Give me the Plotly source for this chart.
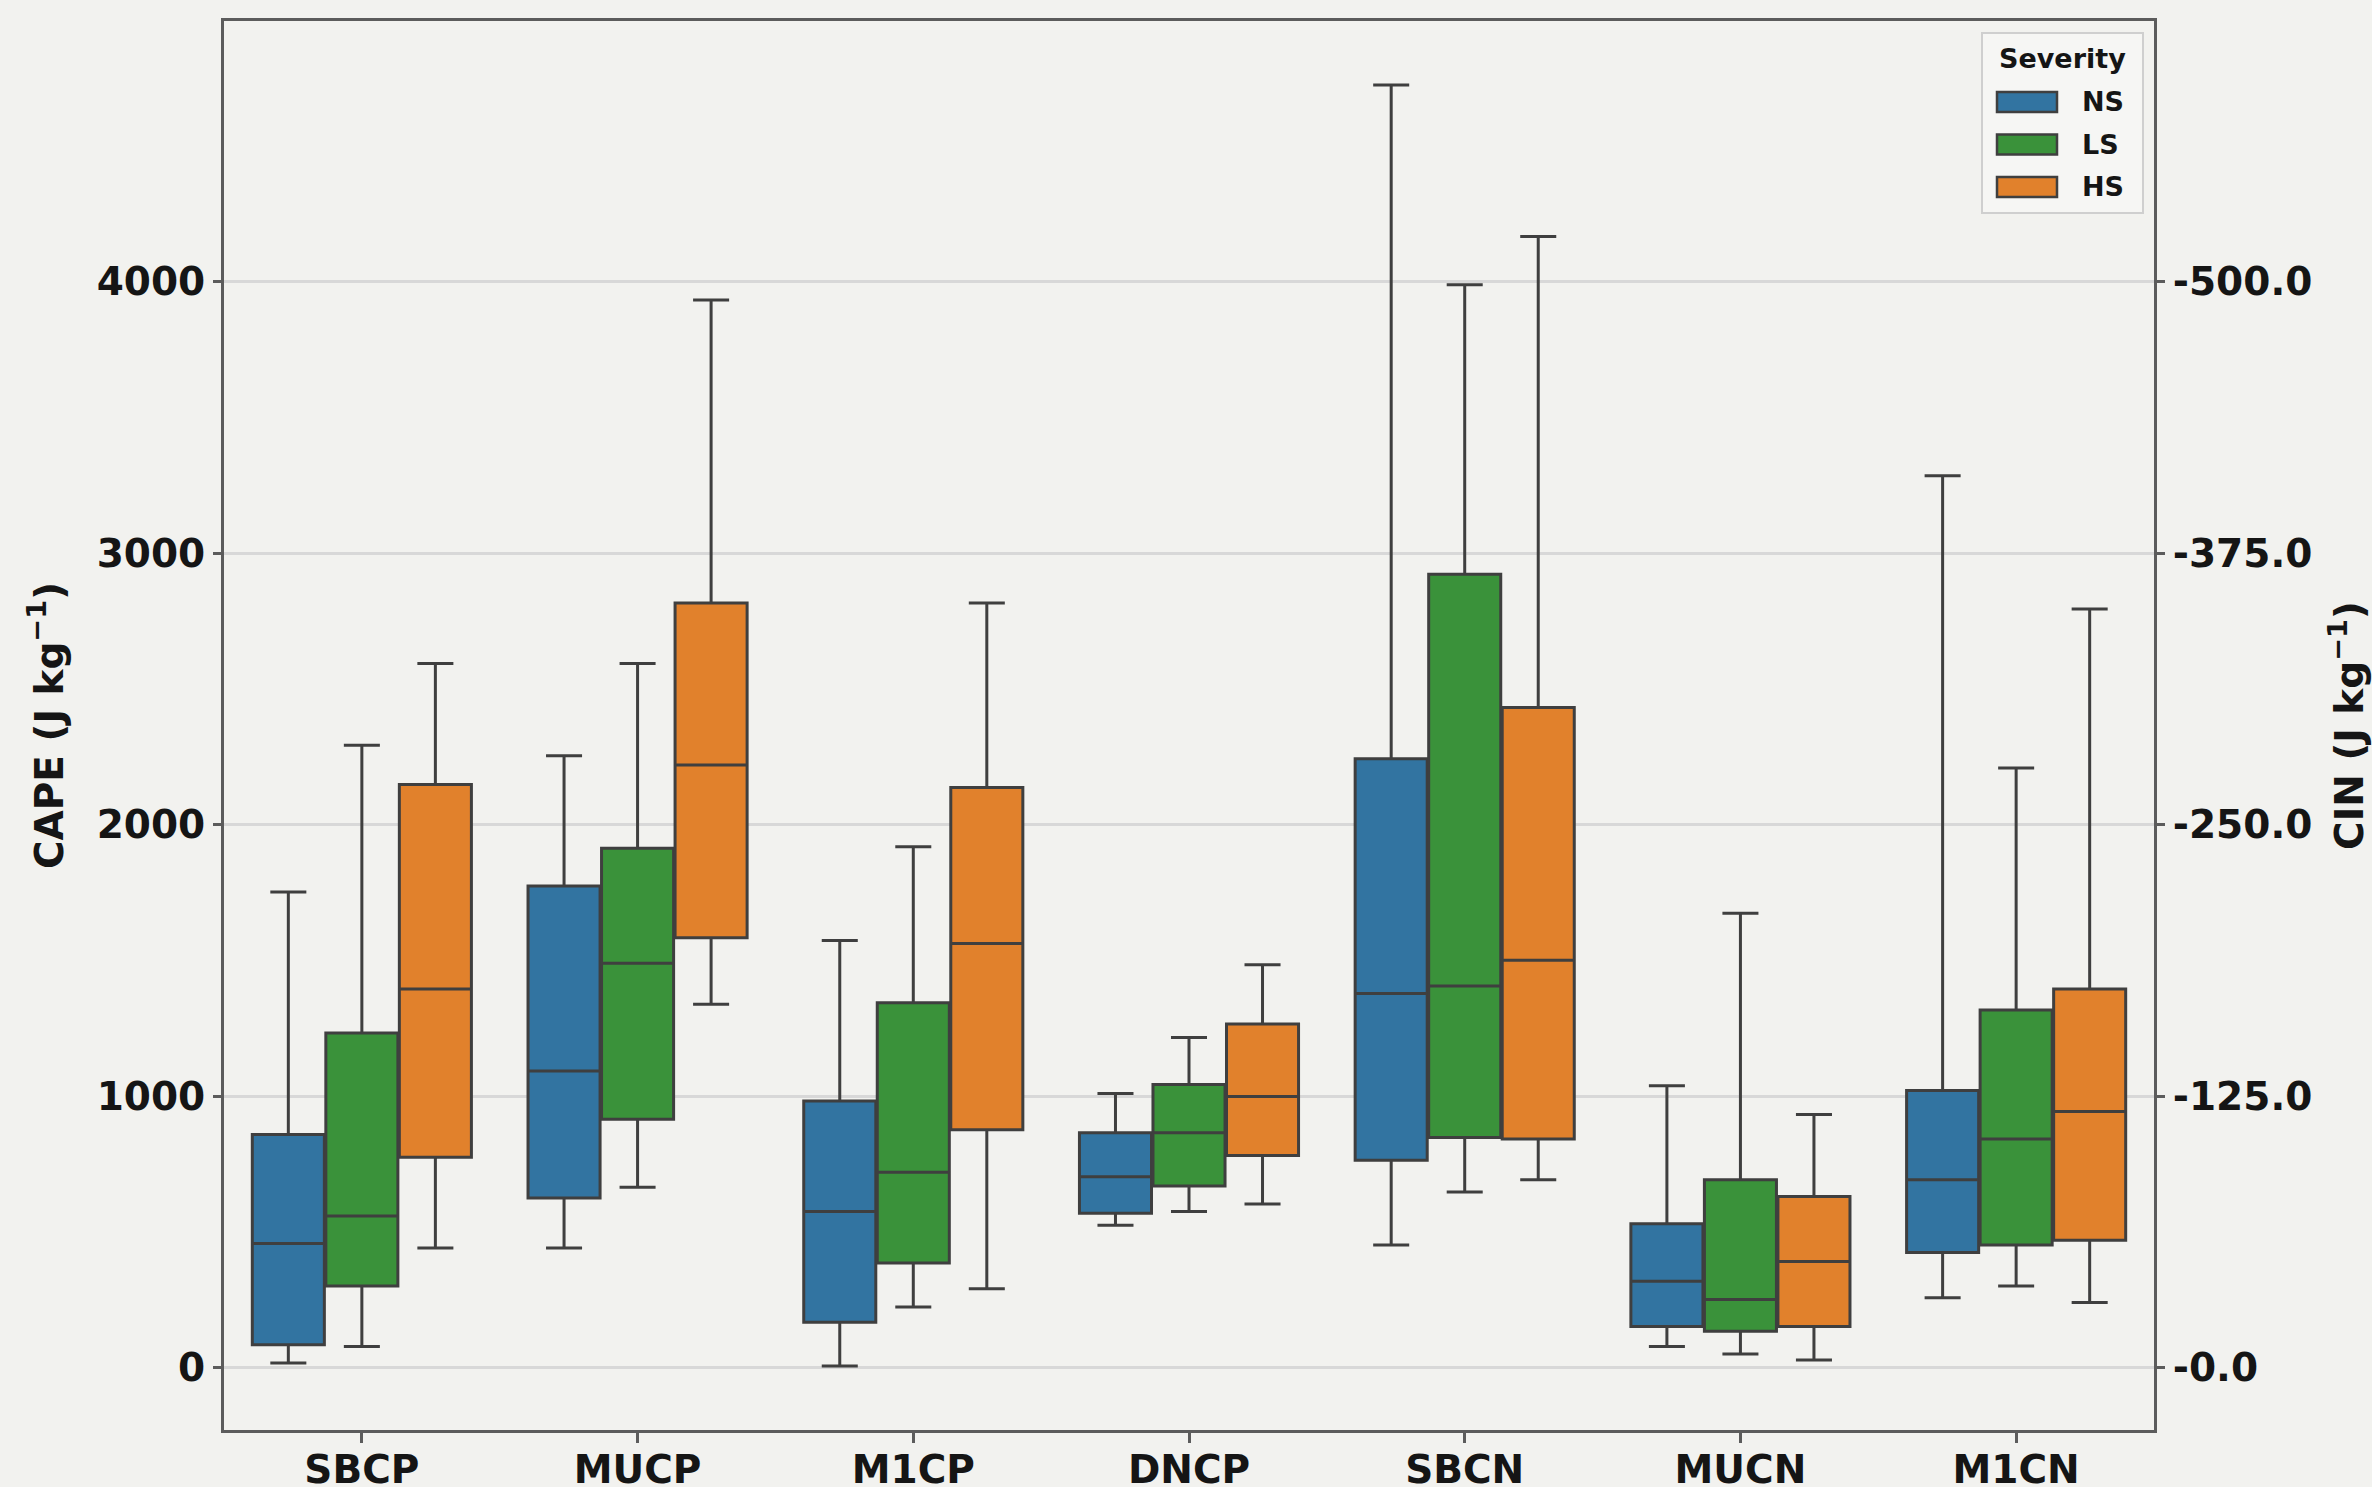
import plotly.graph_objects as go

categories = ["SBCP", "MUCP", "M1CP", "DNCP", "SBCN", "MUCN", "M1CN"]
severities = ["NS", "LS", "HS"]
colors = {"NS": "#3274a1", "LS": "#3a923a", "HS": "#e1812c"}

# CAPE (J kg-1) box statistics per severity, one value per category
ns_low = [17, 441, 6, 524, 452, 78, 257]
ns_q1 = [84, 625, 167, 569, 764, 151, 424]
ns_med = [457, 1093, 575, 703, 1378, 318, 692]
ns_q3 = [859, 1774, 982, 865, 2243, 530, 1021]
ns_high = [1752, 2254, 1573, 1010, 4725, 1038, 3286]

ls_low = [78, 664, 223, 575, 647, 50, 301]
ls_q1 = [301, 915, 385, 669, 848, 134, 452]
ls_med = [558, 1490, 720, 865, 1406, 251, 842]
ls_q3 = [1233, 1913, 1344, 1043, 2923, 692, 1317]
ls_high = [2293, 2594, 1919, 1216, 3989, 1674, 2209]

hs_low = [441, 1339, 290, 603, 692, 28, 240]
hs_q1 = [775, 1584, 876, 781, 842, 151, 469]
hs_med = [1395, 2220, 1562, 999, 1501, 391, 943]
hs_q3 = [2148, 2817, 2137, 1266, 2432, 630, 1395]
hs_high = [2594, 3933, 2817, 1484, 4167, 932, 2795]

cape_ticks = [0, 1000, 2000, 3000, 4000]
cin_ticks = [-0.0, -125.0, -250.0, -375.0, -500.0]
cape_per_cin = cape_ticks[-1] / cin_ticks[-1]  # -8

stats = {
    "NS": (ns_low, ns_q1, ns_med, ns_q3, ns_high),
    "LS": (ls_low, ls_q1, ls_med, ls_q3, ls_high),
    "HS": (hs_low, hs_q1, hs_med, hs_q3, hs_high),
}

FONT = "DejaVu Sans"
TXT = "#151515"
EDGE = "#3f3f3f"
SPINE = "#5c5c5c"
BG = "#f2f2ef"

W, H = 2372, 1487
ML, MR, MT, MB = 224, 218, 21, 57
PW, PH = W - ML - MR, H - MT - MB


def px_x(x):
    return (x - ML) / PW


def px_y(y):
    return (H - MB - y) / PH


fig = go.Figure()
for s in severities:
    lo, q1, med, q3, hi = stats[s]
    fig.add_trace(go.Box(
        x=categories, lowerfence=lo, q1=q1, median=med, q3=q3, upperfence=hi,
        name=s, fillcolor=colors[s], line=dict(color=EDGE, width=3),
        whiskerwidth=0.5, boxpoints=False, showlegend=False,
    ))

all_vals = [v for s in severities for arr in stats[s] for v in arr]
vmin, vmax = min(all_vals), max(all_vals)
pad = 0.05 * (vmax - vmin)
yr = [vmin - pad, vmax + pad]

# invisible trace to activate the secondary (CIN) axis
fig.add_trace(go.Scatter(x=[categories[0]], y=[0], yaxis="y2", mode="markers",
                         marker=dict(opacity=0), showlegend=False, hoverinfo="skip"))

# legend drawn by hand (matplotlib-style wide patches)
shapes = [dict(type="rect", xref="paper", yref="paper",
               x0=px_x(1982), x1=px_x(2143), y0=px_y(213), y1=px_y(33),
               fillcolor="#f6f6f4", line=dict(color="#cfcfcf", width=2), layer="above")]
annotations = [dict(text="<b>Severity</b>", xref="paper", yref="paper",
                    x=px_x(2062), y=px_y(59), xanchor="center", yanchor="middle",
                    showarrow=False, font=dict(family=FONT, size=27, color=TXT))]
for i, s in enumerate(severities):
    yc = 102 + i * 42.5
    shapes.append(dict(type="rect", xref="paper", yref="paper",
                       x0=px_x(1997), x1=px_x(2057), y0=px_y(yc + 10), y1=px_y(yc - 10),
                       fillcolor=colors[s], line=dict(color=EDGE, width=2.5), layer="above"))
    annotations.append(dict(text=f"<b>{s}</b>", xref="paper", yref="paper",
                            x=px_x(2080), y=px_y(yc), xanchor="left", yanchor="middle",
                            showarrow=False, font=dict(family=FONT, size=27, color=TXT)))

tickfont = dict(family=FONT, size=39, weight="bold", color=TXT)

fig.update_layout(
    width=W, height=H,
    margin=dict(l=ML, r=MR, t=MT, b=MB),
    paper_bgcolor=BG, plot_bgcolor=BG,
    boxmode="group", boxgap=0.2, boxgroupgap=0.02,
    showlegend=False,
    shapes=shapes, annotations=annotations,
    xaxis=dict(
        tickfont=tickfont, showgrid=False, ticks="outside", ticklen=10, tickwidth=3,
        tickcolor=SPINE, showline=True, linecolor=SPINE, linewidth=3, mirror=True,
        ticklabelstandoff=-7, automargin=False,
    ),
    yaxis=dict(
        range=yr, tickvals=cape_ticks, ticktext=[str(v) for v in cape_ticks],
        tickfont=tickfont, showgrid=True, gridcolor="#d8d8d8", gridwidth=3,
        zeroline=False, ticks="outside", ticklen=8, tickwidth=3, tickcolor=SPINE,
        showline=True, linecolor=SPINE, linewidth=3, mirror=True, automargin=False,
        title=dict(text="CAPE (J kg<sup>−1</sup>)", font=dict(family=FONT, size=39, weight="bold", color=TXT), standoff=22),
    ),
    yaxis2=dict(
        overlaying="y", side="right",
        range=[yr[0] / cape_per_cin, yr[1] / cape_per_cin],
        tickvals=cin_ticks, ticktext=[f"{v:.1f}" for v in cin_ticks],
        tickfont=tickfont, showgrid=False, zeroline=False,
        ticks="outside", ticklen=8, tickwidth=3, tickcolor=SPINE,
        showline=True, linecolor=SPINE, linewidth=3, automargin=False,
        title=dict(text="CIN (J kg<sup>−1</sup>)", font=dict(family=FONT, size=39, weight="bold", color=TXT), standoff=28),
    ),
)

fig.write_html("out.html")
